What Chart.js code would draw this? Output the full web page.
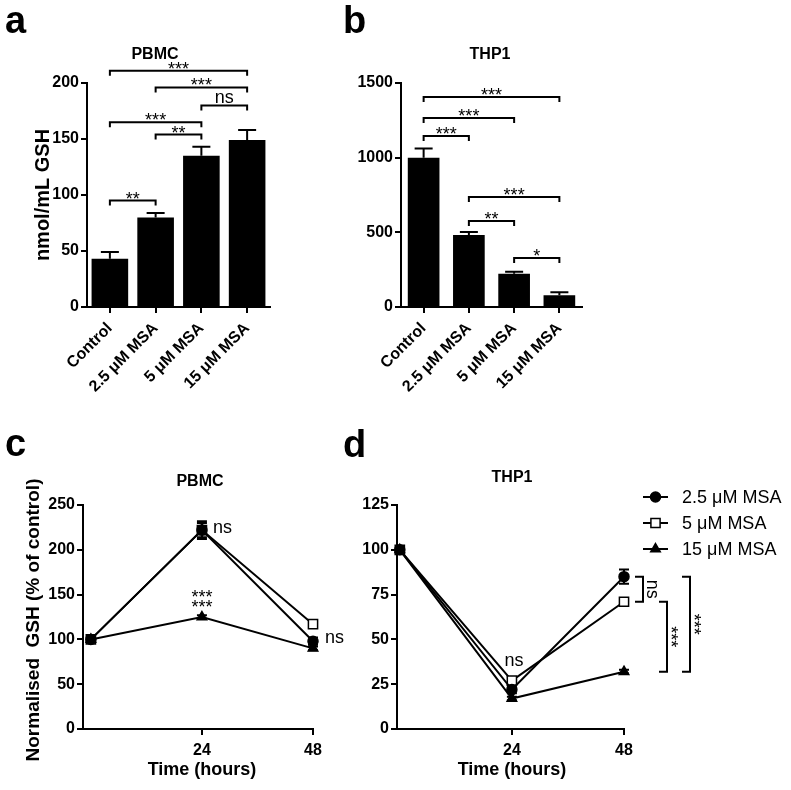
<!DOCTYPE html>
<html>
<head>
<meta charset="utf-8">
<script src="https://cdn.jsdelivr.net/npm/chart.js@4.4.1/dist/chart.umd.min.js"></script>
<style>
  html, body { margin: 0; padding: 0; background: #fff; }
  #wrap { position: relative; width: 791px; height: 790px; overflow: hidden; }
  canvas { position: absolute; left: 0; top: 0; }
</style>
</head>
<body>
<div id="wrap">
  <canvas id="chartA" width="791" height="790"></canvas>
  <canvas id="chartB" width="791" height="790"></canvas>
  <canvas id="chartC" width="791" height="790"></canvas>
  <canvas id="chartD" width="791" height="790"></canvas>
</div>
<script>
// ---- data ----
const categories = ['Control', '2.5 μM MSA', '5 μM MSA', '15 μM MSA'];

const pbmcMean = [43, 80, 135, 149];
const pbmcSem = [6, 4, 8, 9];
const thp1Mean = [1000, 482, 222, 78];
const thp1Sem = [62, 20, 14, 20];

// [first bar, last bar, height, label]
const pbmcBrackets = [[0, 1, 95, '**'], [1, 2, 154, '**'], [0, 2, 165, '***'],
                      [2, 3, 180, 'ns'], [1, 3, 196, '***'], [0, 3, 211, '***']];
const thp1Brackets = [[0, 1, 1145, '***'], [0, 2, 1266, '***'], [0, 3, 1406, '***'],
                      [2, 3, 328, '*'], [1, 2, 576, '**'], [1, 3, 737, '***']];

const hours = [0, 24, 48];
const doseNames = ['2.5 μM MSA', '5 μM MSA', '15 μM MSA'];

const pbmc25 = [100, 222, 98];
const pbmc25Sem = [0, 10, 4];
const pbmc5 = [100, 222, 117];
const pbmc5Sem = [0, 8, 3];
const pbmc15 = [100, 125, 90];
const pbmc15Sem = [0, 2, 2];

const thp125 = [100, 22, 85];
const thp125Sem = [0, 2, 4];
const thp15 = [100, 27, 71];
const thp15Sem = [0, 2, 2];
const thp115 = [100, 17, 32];
const thp115Sem = [0, 1, 1];

// comparisons at 48 h in THP1: [from, to, label]
const thp1At48 = [[85, 71, 'ns'], [71, 32, '***'], [85, 32, '***']];

// ---- helpers ----
const FONT = "'Liberation Sans', Arial, Helvetica, sans-serif";
const W = 791, H = 790, YW = 60;

// put the plot area at (l, t, r, b) on the shared 791x790 page
function area(l, t, r, b, xh) {
  return { left: l - YW, top: t, right: W - r, bottom: H - b - xh };
}

function axis(extra) {
  return Object.assign({
    grid: { display: true, drawOnChartArea: false, drawTicks: true, tickLength: 6, color: '#000', lineWidth: 2 },
    border: { display: true, color: '#000', width: 2 },
    ticks: { color: '#000', font: { family: FONT, size: 16, weight: 'bold' }, padding: 2 }
  }, extra);
}

const plainTick = v => String(v);

const figurePlugin = {
  id: 'figure',
  beforeDatasetsDraw(chart, args, o) {
    const { ctx, scales: { x, y } } = chart;
    ctx.save();
    ctx.strokeStyle = '#000';
    ctx.lineWidth = 2;
    chart.data.datasets.forEach((ds, di) => {
      if (!ds.sem) return;
      const meta = chart.getDatasetMeta(di);
      meta.data.forEach((el, i) => {
        const err = ds.sem[i];
        if (!err) return;
        const raw = ds.data[i];
        const v = typeof raw === 'number' ? raw : raw.y;
        const px = el.x;
        const yHi = y.getPixelForValue(v + err);
        const yLo = y.getPixelForValue(o.upperOnly ? v : v - err);
        ctx.beginPath();
        ctx.moveTo(px, yLo); ctx.lineTo(px, yHi);
        ctx.moveTo(px - o.cap, yHi); ctx.lineTo(px + o.cap, yHi);
        if (!o.upperOnly) { ctx.moveTo(px - o.cap, yLo); ctx.lineTo(px + o.cap, yLo); }
        ctx.stroke();
      });
    });
    ctx.restore();
  },
  afterDraw(chart, args, o) {
    const { ctx, scales: { x, y } } = chart;
    ctx.save();
    ctx.strokeStyle = '#000';
    ctx.fillStyle = '#000';
    ctx.lineWidth = 2;
    ctx.font = '18px ' + FONT;
    ctx.textAlign = 'center';
    ctx.textBaseline = 'alphabetic';

    // significance brackets over the bars
    (o.brackets || []).forEach(([a, b, v, label]) => {
      const x1 = x.getPixelForValue(a), x2 = x.getPixelForValue(b), yy = y.getPixelForValue(v);
      ctx.beginPath();
      ctx.moveTo(x1, yy + 5); ctx.lineTo(x1, yy); ctx.lineTo(x2, yy); ctx.lineTo(x2, yy + 5);
      ctx.stroke();
      const d = ctx.measureText(label).actualBoundingBoxDescent;
      ctx.fillText(label, (x1 + x2) / 2, yy - 2 - d);
    });

    // upright brackets to the right of the last time point
    (o.sideBrackets || []).forEach(([v1, v2, label], k) => {
      const xx = x.getPixelForValue(o.sideAt) + o.sideOffsets[k];
      const y1 = y.getPixelForValue(v1), y2 = y.getPixelForValue(v2);
      ctx.beginPath();
      ctx.moveTo(xx - 8, y1); ctx.lineTo(xx, y1); ctx.lineTo(xx, y2); ctx.lineTo(xx - 8, y2);
      ctx.stroke();
      ctx.save();
      ctx.translate(xx + 4, (y1 + y2) / 2);
      ctx.rotate(Math.PI / 2);
      const d = ctx.measureText(label).actualBoundingBoxDescent;
      ctx.fillText(label, 0, -d);
      ctx.restore();
    });

    // notes pinned to data coordinates (glyph bottom sits on y)
    (o.notes || []).forEach(n => {
      ctx.textAlign = n.align || 'center';
      const d = ctx.measureText(n.text).actualBoundingBoxDescent;
      ctx.fillText(n.text, x.getPixelForValue(n.x) + (n.dx || 0), y.getPixelForValue(n.y) - d);
    });

    // titles, axis titles, panel letters
    (o.texts || []).forEach(t => {
      ctx.save();
      ctx.font = t.font;
      ctx.textAlign = t.align || 'center';
      ctx.textBaseline = t.baseline || 'alphabetic';
      ctx.translate(t.x, t.y);
      if (t.rotate) ctx.rotate(t.rotate);
      ctx.fillText(t.text, 0, 0);
      ctx.restore();
    });

    // legend with line + marker
    if (o.legend) {
      const L = o.legend;
      chart.data.datasets.forEach((ds, i) => {
        const cy = L.y + i * L.step;
        ctx.strokeStyle = '#000';
        ctx.lineWidth = 2;
        ctx.beginPath(); ctx.moveTo(L.x, cy); ctx.lineTo(L.x + L.len, cy); ctx.stroke();
        ctx.fillStyle = ds.pointBackgroundColor;
        ctx.lineWidth = ds.pointBorderWidth;
        Chart.helpers.drawPoint(ctx, { pointStyle: ds.pointStyle, radius: ds.pointRadius, rotation: 0, borderWidth: ds.pointBorderWidth }, L.x + L.len / 2, cy);
        ctx.fillStyle = '#000';
        ctx.font = L.font;
        ctx.textAlign = 'left';
        ctx.textBaseline = 'middle';
        ctx.fillText(ds.label, L.x + L.len + L.pad, cy + 1);
      });
    }
    ctx.restore();
  }
};

function barChart(id, values, sem, pad, yMax, yStep, barPct, brackets, texts) {
  return new Chart(document.getElementById(id), {
    type: 'bar',
    data: {
      labels: categories,
      datasets: [{ data: values, sem: sem, backgroundColor: '#000', borderWidth: 0,
                   barPercentage: barPct, categoryPercentage: 1 }]
    },
    options: {
      responsive: false, animation: false,
      layout: { padding: pad },
      plugins: {
        legend: { display: false }, tooltip: { enabled: false },
        figure: { upperOnly: true, cap: 9, brackets: brackets, texts: texts }
      },
      scales: {
        x: axis({
          grid: { display: true, drawOnChartArea: false, offset: false, tickLength: 6, color: '#000', lineWidth: 2 },
          ticks: { color: '#000', font: { family: FONT, size: 16, weight: 'bold' }, padding: 6,
                   minRotation: 45, maxRotation: 45, autoSkip: false },
          afterFit: s => { s.height = 130; }
        }),
        y: axis({ min: 0, max: yMax, ticks: { color: '#000', stepSize: yStep, padding: 2, callback: plainTick,
                  font: { family: FONT, size: 16, weight: 'bold' } },
                  afterFit: s => { s.width = YW; } })
      }
    },
    plugins: [figurePlugin]
  });
}

function series(label, values, sem, style, fill, radius) {
  return {
    label: label, sem: sem,
    data: hours.map((h, i) => ({ x: h, y: values[i] })),
    borderColor: '#000', borderWidth: 2, tension: 0, fill: false, clip: false,
    pointStyle: style, pointRadius: radius, pointBackgroundColor: fill,
    pointBorderColor: '#000', pointBorderWidth: 1.5, backgroundColor: fill
  };
}

function lineChart(id, sets, pad, xMin, yMax, yStep, extra) {
  return new Chart(document.getElementById(id), {
    type: 'line',
    data: { datasets: sets },
    options: {
      responsive: false, animation: false,
      layout: { padding: pad },
      plugins: {
        legend: { display: false }, tooltip: { enabled: false },
        figure: Object.assign({ upperOnly: false, cap: 5 }, extra)
      },
      scales: {
        x: axis({ type: 'linear', min: xMin, max: 48,
                  afterBuildTicks: s => { s.ticks = [{ value: 24 }, { value: 48 }]; },
                  ticks: { color: '#000', font: { family: FONT, size: 16, weight: 'bold' }, padding: 6, callback: plainTick },
                  afterFit: s => { s.height = 60; } }),
        y: axis({ min: 0, max: yMax, ticks: { color: '#000', stepSize: yStep, padding: 2, callback: plainTick,
                  font: { family: FONT, size: 16, weight: 'bold' } },
                  afterFit: s => { s.width = YW; } })
      }
    },
    plugins: [figurePlugin]
  });
}

const letterFont = 'bold 38px ' + FONT;
const titleFont = 'bold 16px ' + FONT;
const axisFont = 'bold 18px ' + FONT;

// a
barChart('chartA', pbmcMean, pbmcSem, area(87, 83, 270, 307, 130), 200, 50, 0.8, pbmcBrackets, [
  { text: 'a', x: 5, y: 33, font: letterFont, align: 'left' },
  { text: 'PBMC', x: 155, y: 59, font: titleFont },
  { text: 'nmol/mL GSH', x: 43, y: 195, font: 'bold 20px ' + FONT, rotate: -Math.PI / 2, baseline: 'middle' }
]);

// b
barChart('chartB', thp1Mean, thp1Sem, area(401, 83, 582, 307, 130), 1500, 500, 0.7, thp1Brackets, [
  { text: 'b', x: 343, y: 33, font: letterFont, align: 'left' },
  { text: 'THP1', x: 490, y: 59, font: titleFont }
]);

// c
lineChart('chartC', [
  series(doseNames[0], pbmc25, pbmc25Sem, 'circle', '#000', 5),
  series(doseNames[1], pbmc5, pbmc5Sem, 'rect', '#fff', 6.5),
  series(doseNames[2], pbmc15, pbmc15Sem, 'triangle', '#000', 5.5)
], area(83, 505, 313, 729, 60), -1.7, 250, 50, {
  notes: [
    { x: 24, y: 219, dx: 11, text: 'ns', align: 'left' },
    { x: 24, y: 147, text: '***' },
    { x: 24, y: 136, text: '***' },
    { x: 48, y: 96, dx: 12, text: 'ns', align: 'left' }
  ],
  texts: [
    { text: 'c', x: 5, y: 456, font: letterFont, align: 'left' },
    { text: 'PBMC', x: 200, y: 486, font: titleFont },
    { text: 'Normalised  GSH (% of control)', x: 34, y: 620, font: 'bold 19px ' + FONT, rotate: -Math.PI / 2, baseline: 'middle' },
    { text: 'Time (hours)', x: 202, y: 775, font: axisFont }
  ]
});

// d
lineChart('chartD', [
  series(doseNames[0], thp125, thp125Sem, 'circle', '#000', 5),
  series(doseNames[1], thp15, thp15Sem, 'rect', '#fff', 6.5),
  series(doseNames[2], thp115, thp115Sem, 'triangle', '#000', 5.5)
], area(397, 505, 624, 729, 60), -0.6, 125, 25, {
  notes: [{ x: 24, y: 35, dx: 2, text: 'ns' }],
  sideBrackets: thp1At48,
  sideAt: 48,
  sideOffsets: [19, 43, 66],
  legend: { x: 643, y: 497, step: 26, len: 25, pad: 14, font: '18px ' + FONT },
  texts: [
    { text: 'd', x: 343, y: 457, font: letterFont, align: 'left' },
    { text: 'THP1', x: 512, y: 482, font: titleFont },
    { text: 'Time (hours)', x: 512, y: 775, font: axisFont }
  ]
});
</script>
</body>
</html>
